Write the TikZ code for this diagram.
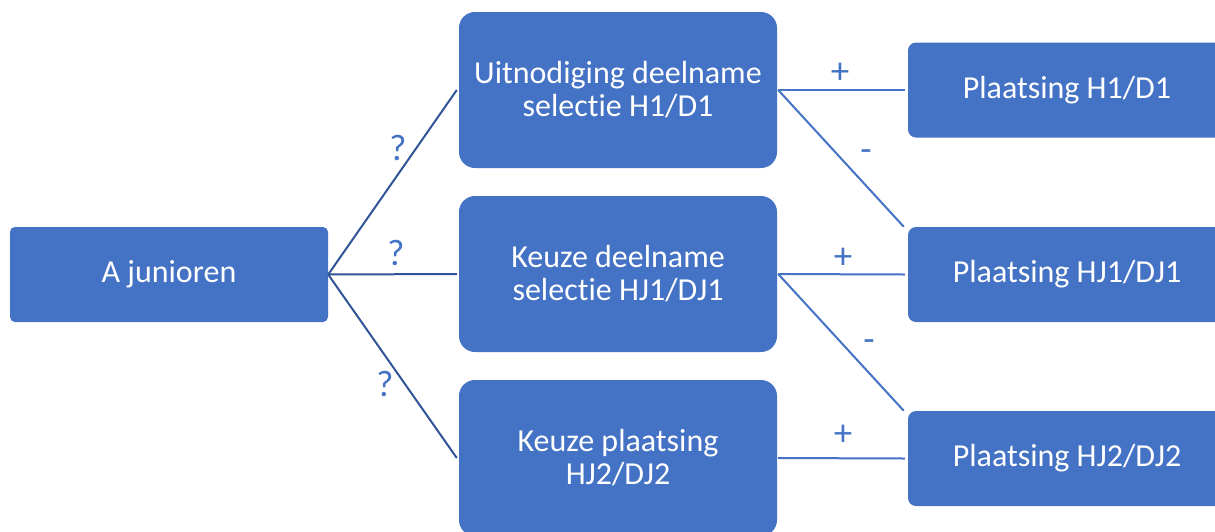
\documentclass[tikz,border=0pt]{standalone}
\usepackage{fontspec}
\setmainfont[Ligatures=NoCommon]{Carlito}
\definecolor{boxblue}{HTML}{4472C4}
\definecolor{darkline}{HTML}{2F5597}
\begin{document}
\begin{tikzpicture}[x=1pt,y=-1pt,
  box/.style={fill=boxblue,text=white,inner sep=0pt,align=center,
    font=\fontsize{32}{33}\selectfont,minimum width=318pt},
  lnk/.style={line width=2pt,darkline},
  rlnk/.style={line width=2pt,boxblue},
  lbl/.style={text=boxblue,font=\fontsize{37}{40}\selectfont,inner sep=0pt}]
\useasboundingbox (0,0) rectangle (1215,531);
\clip (0,0) rectangle (1215,531);
\node[box,minimum height=95pt,rounded corners=5pt] (a) at (169,274.5) {A junioren};
\node[box,minimum height=156pt,rounded corners=16pt] (u) at (618,90) {Uitnodiging deelname\\selectie H1/D1};
\node[box,minimum height=156pt,rounded corners=16pt] (k) at (618,274) {Keuze deelname\\selectie HJ1/DJ1};
\node[box,minimum height=156pt,rounded corners=16pt] (p) at (618,458) {Keuze plaatsing\\HJ2/DJ2};
\node[box,minimum height=95pt,rounded corners=8pt] (h1) at (1067,90) {Plaatsing H1/D1};
\node[box,minimum height=95pt,rounded corners=8pt] (h2) at (1067,274.5) {Plaatsing HJ1/DJ1};
\node[box,minimum height=95pt,rounded corners=8pt] (h3) at (1067,458.5) {Plaatsing HJ2/DJ2};
\draw[lnk] (a.east) -- ([xshift=-2pt]u.west);
\draw[lnk] (a.east) -- ([xshift=-2pt]k.west);
\draw[lnk] (a.east) -- ([xshift=-2pt]p.west);
\draw[rlnk] ([xshift=1pt]u.east) -- ([xshift=-3pt]h1.west);
\draw[rlnk] ([xshift=1pt]u.east) -- ([xshift=-4pt]h2.north west);
\draw[rlnk] ([xshift=1pt]k.east) -- ([xshift=-3pt]h2.west);
\draw[rlnk] ([xshift=1pt]k.east) -- ([xshift=-4pt]h3.north west);
\draw[rlnk] ([xshift=1pt]p.east) -- ([xshift=-3pt]h3.west);
\node[lbl] (q1) at (398,148) {?};
\node[lbl] (q2) at (396,253) {?};
\node[lbl] (q3) at (385,384) {?};
\node[lbl] (p1) at (840,73) {+};
\node[lbl] (p2) at (843,258) {+};
\node[lbl] (p3) at (843,435) {+};
\node[lbl] (m1) at (866,156) {-};
\node[lbl] (m2) at (869,346) {-};
\end{tikzpicture}
\end{document}
